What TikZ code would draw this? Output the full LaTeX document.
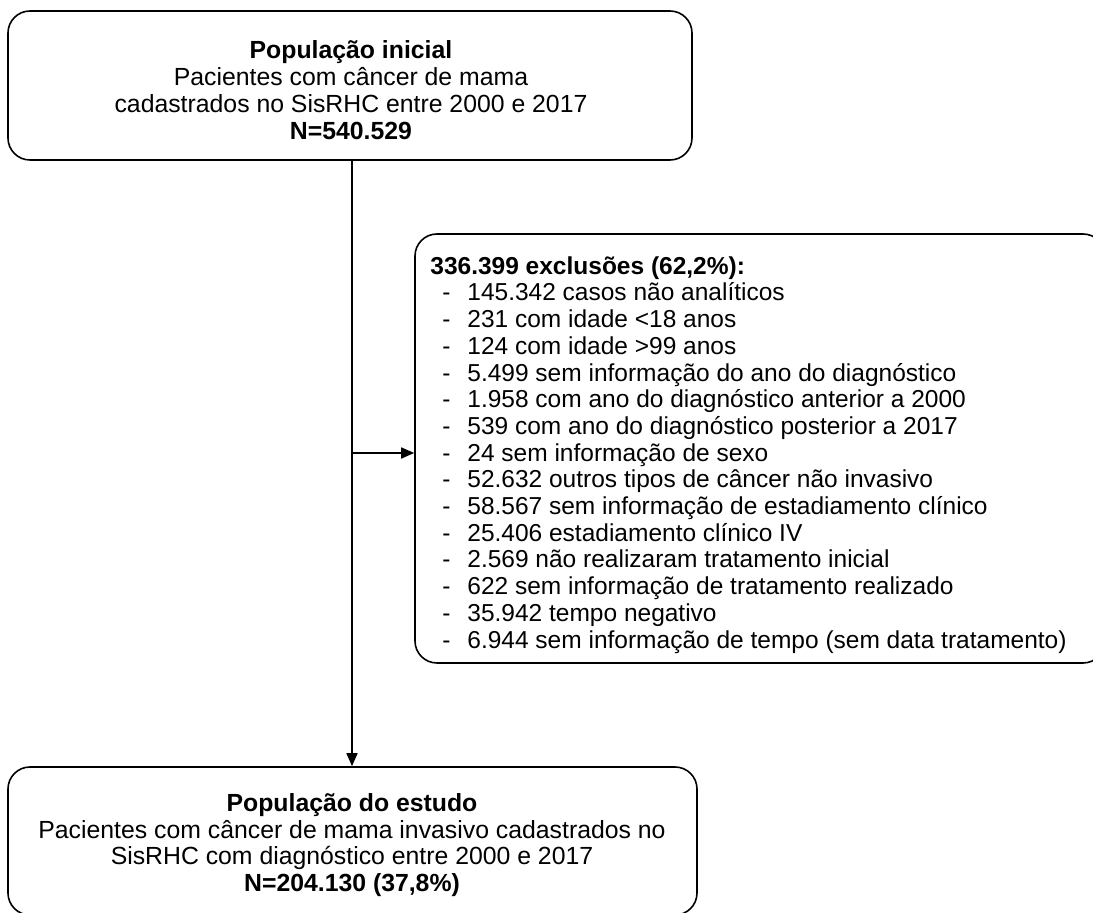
\documentclass[tikz,border=0pt]{standalone}
\usepackage{fontspec}
\setmainfont{Liberation Sans}
\usetikzlibrary{arrows.meta}
\begin{document}
\begin{tikzpicture}[x=0.5pt,y=-0.5pt,
  box/.style={draw, line width=0.8pt, rounded corners=11pt, inner sep=0pt},
  txt/.style={align=center, inner sep=0pt, font=\fontsize{12.4pt}{13.4pt}\selectfont},
  item/.style={inner sep=0pt, font=\fontsize{12.25pt}{13.4pt}\selectfont},
  conn/.style={line width=0.8pt},
  tip/.style={-{Triangle[length=6.5pt,width=5.5pt]}}]
\useasboundingbox (0,0) rectangle (1093,913);
\clip (0,0) rectangle (1093,913);
% boxes
\node[box, minimum width=342pt, minimum height=74.5pt] (top) at (350,85.5) {};
\node[box, minimum width=344.5pt, minimum height=74pt] (bot) at (352.5,841) {};
\node[box, minimum width=345pt, minimum height=214.5pt] (excl) at (760,448.5) {};
% texts
\node[txt] (toptext) at (351,90) {\textbf{População inicial}\\Pacientes com câncer de mama\\cadastrados no SisRHC entre 2000 e 2017\\\textbf{N=540.529}};
\node[txt] (bottext) at (352,845) {\textbf{População do estudo}\\Pacientes com câncer de mama invasivo cadastrados no\\SisRHC com diagnóstico entre 2000 e 2017\\\textbf{N=204.130 (37,8\%)}};
\node[item, anchor=base west] (exhead) at (430,275) {\textbf{336.399 exclusões (62,2\%):}};
\foreach \t [count=\i from 0] in {
  145.342 casos não analíticos,
  231 com idade <18 anos,
  124 com idade >99 anos,
  5.499 sem informação do ano do diagnóstico,
  1.958 com ano do diagnóstico anterior a 2000,
  539 com ano do diagnóstico posterior a 2017,
  24 sem informação de sexo,
  52.632 outros tipos de câncer não invasivo,
  58.567 sem informação de estadiamento clínico,
  25.406 estadiamento clínico IV,
  2.569 não realizaram tratamento inicial,
  622 sem informação de tratamento realizado,
  35.942 tempo negativo,
  6.944 sem informação de tempo (sem data tratamento)}{
  \node[item, anchor=base west] (dash\i) at (442,{301+26.7*\i}) {-};
  \node[item, anchor=base west] (ex\i) at (467,{301+26.7*\i}) {\t};
}
% connectors
\coordinate (j) at (352,453);
\draw[conn, tip] (top.south -| j) -- (bot.north -| j);
\draw[conn, tip] (j) -- (j -| excl.west);
\end{tikzpicture}
\end{document}
